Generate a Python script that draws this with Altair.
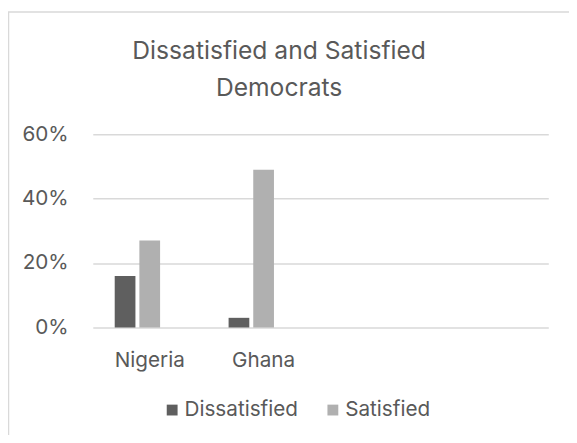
import altair as alt
import pandas as pd

countries = ["Nigeria", "Ghana"]
dissatisfied = [0.16, 0.03]
satisfied = [0.27, 0.49]
categories = ["Nigeria", "Ghana", " ", "  "]
series = ["Dissatisfied", "Satisfied"]
colors = ["#5f5f5f", "#b0b0b0"]
y_ticks = [0, 0.2, 0.4, 0.6]
title_text = "Dissatisfied and Satisfied\nDemocrats"

rows = []
for i, c in enumerate(countries):
    rows.append({"country": c, "series": series[0], "value": dissatisfied[i]})
    rows.append({"country": c, "series": series[1], "value": satisfied[i]})
df = pd.DataFrame(rows)

FONT = "Inter"
TXT = "#595959"
FS = 21

bars = alt.Chart(df).mark_bar().encode(
    x=alt.X("country:N", sort=categories,
            scale=alt.Scale(domain=categories, paddingInner=0.385, paddingOuter=0.1925),
            axis=alt.Axis(title=None, domain=False, ticks=False, labelAngle=0, labelPadding=23,
                          labelFontSize=FS, labelColor=TXT, labelFont=FONT)),
    xOffset=alt.XOffset("series:N",
                        scale=alt.Scale(domain=series + ["(blank)"], paddingInner=0.16, paddingOuter=0)),
    y=alt.Y("value:Q", scale=alt.Scale(domain=[0, 0.6]),
            axis=alt.Axis(title=None, domain=False, ticks=False, values=y_ticks, format=".0%",
                          labelPadding=25, labelFontSize=FS, labelColor=TXT, labelFont=FONT,
                          gridColor="#d9d9d9", gridWidth=1.5)),
    color=alt.Color("series:N", scale=alt.Scale(domain=series, range=colors),
                    legend=alt.Legend(title=None, orient="none", legendX=70, legendY=269,
                                      direction="horizontal", symbolType="square", symbolSize=121,
                                      symbolStrokeWidth=0, labelFontSize=FS, labelColor=TXT,
                                      labelFont=FONT, labelOffset=2, columnPadding=24)),
)

frame = alt.Chart(pd.DataFrame({"f": [0]})).mark_rect(
    fill="transparent", stroke="#d9d9d9", strokeWidth=1.5
).encode(
    x=alt.value(-85.5), x2=alt.value(520), y=alt.value(-124), y2=alt.value(340)
)

title = alt.Chart(pd.DataFrame({"t": [title_text]})).mark_text(
    font=FONT, fontSize=25, color=TXT, align="center", baseline="alphabetic",
    lineBreak="\n", lineHeight=37
).encode(
    text="t:N", x=alt.value(189), y=alt.value(-76)
)

chart = alt.layer(frame, bars, title).properties(
    width=462, height=196,
    padding={"left": 86, "top": 125, "right": 21, "bottom": 106},
    autosize=alt.AutoSizeParams(type="none"),
).configure_view(stroke=None)

chart.save("out.html", embed_options={"renderer": "svg", "actions": False})
